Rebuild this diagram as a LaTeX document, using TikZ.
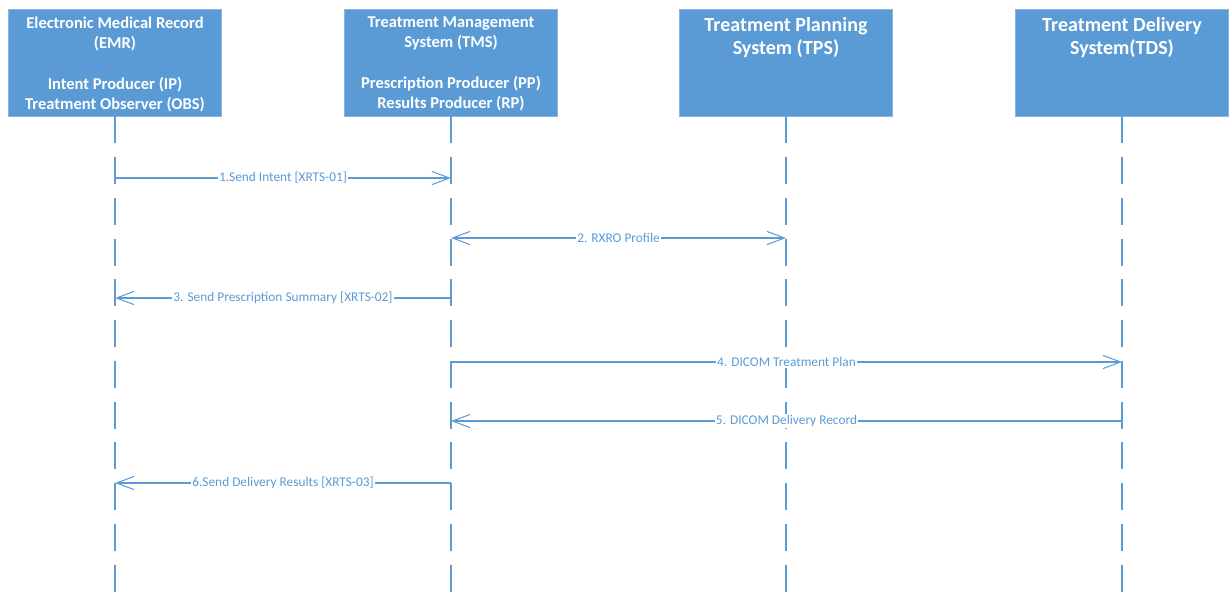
\documentclass[tikz,border=0pt]{standalone}
\usepackage{fontspec}
\setmainfont{Carlito}
\usetikzlibrary{positioning, arrows.meta}
\definecolor{boxblue}{HTML}{5B9BD5}
\definecolor{boxedge}{HTML}{8EB4E3}
\definecolor{lineblue}{HTML}{5B9BD5}

\begin{document}
\begin{tikzpicture}[x=0.02cm, y=-0.02cm]
    % settings for this picture
    \tikzset{
      >={Straight Barb[length=10pt, width=7.5pt]},
      actor/.style={draw=boxedge, fill=boxblue, minimum width=4.26cm, minimum height=2.14cm, inner sep=0pt},
      title/.style={text=white, font=\bfseries\fontsize{9.4}{11.6}\selectfont, align=center, inner sep=0pt},
      bigtitle/.style={title, font=\bfseries\fontsize{11.4}{13.6}\selectfont},
      lifeline/.style={draw=lineblue, line width=0.85pt, dash pattern=on 15.3pt off 7.9pt},
      msg/.style={draw=lineblue, line width=0.6pt},
      lbl/.style={fill=white, text=lineblue, font=\fontsize{7.6}{9}\selectfont, inner sep=0.6pt},
    }
    \useasboundingbox (0,0) rectangle (1230,605);

    % systems
    \node[actor] (emr) at (115,62.5) {};
    \node[actor] (tms) at (451,62.5) {};
    \node[actor] (tps) at (786,62.5) {};
    \node[actor] (tds) at (1122,62.5) {};

    \node[title, below=0.15cm of emr.north] (emrtitle)
      {Electronic Medical Record\\(EMR)\\[11.6pt]Intent Producer (IP)\\Treatment Observer (OBS)};
    \node[title, below=0.15cm of tms.north] (tmstitle)
      {Treatment Management\\System (TMS)\\[11.6pt]Prescription Producer (PP)\\Results Producer (RP)};
    \node[bigtitle, below=0.16cm of tps.north] (tpstitle) {Treatment Planning\\System (TPS)};
    \node[bigtitle, below=0.16cm of tds.north] (tdstitle) {Treatment Delivery\\System(TDS)};

    % lifelines
    \coordinate (bottom) at (0,605);
    \foreach \s in {emr, tms, tps, tds}
      \draw[lifeline] (\s.south) -- (\s.south |- bottom);

    % messages
    \coordinate (m1) at (0,178);
    \coordinate (m2) at (0,238);
    \coordinate (m3) at (0,298);
    \coordinate (m4) at (0,362);
    \coordinate (m5) at (0,421);
    \coordinate (m6) at (0,483);

    \draw[msg, ->] (emr |- m1) -- node[lbl] {1.Send Intent [XRTS-01]} (tms |- m1);
    \draw[msg, <->] (tms |- m2) -- node[lbl] {2. RXRO Profile} (tps |- m2);
    \draw[msg, ->] (tms |- m3) -- node[lbl] {3. Send Prescription Summary [XRTS-02]} (emr |- m3);
    \draw[msg, ->] (tms |- m4) -- node[lbl] {4. DICOM Treatment Plan} (tds |- m4);
    \draw[msg, ->] (tds |- m5) -- node[lbl] {5. DICOM Delivery Record} (tms |- m5);
    \draw[msg, ->] (tms |- m6) -- node[lbl] {6.Send Delivery Results [XRTS-03]} (emr |- m6);

\end{tikzpicture}
\end{document}
